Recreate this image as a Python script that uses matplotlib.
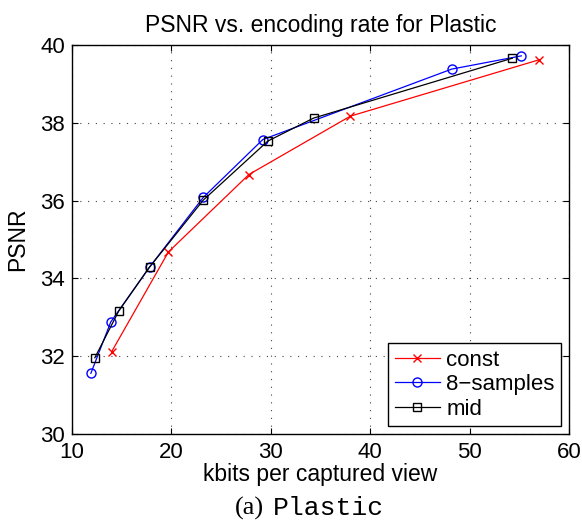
import matplotlib
matplotlib.use("Agg")
import matplotlib.pyplot as plt

# data
const_x = [14.0, 19.7, 27.8, 38.0, 57.0]
const_y = [32.12, 34.68, 36.67, 38.17, 39.62]

samples_x = [11.9, 13.9, 17.8, 23.2, 29.2, 48.2, 55.2]
samples_y = [31.56, 32.88, 34.29, 36.08, 37.57, 39.38, 39.72]

mid_x = [12.3, 14.7, 17.8, 23.2, 29.7, 34.3, 54.3]
mid_y = [31.96, 33.16, 34.29, 36.01, 37.53, 38.12, 39.66]

xticks = [10, 20, 30, 40, 50, 60]
yticks = [30, 32, 34, 36, 38, 40]

plt.rcParams['font.family'] = ['Liberation Sans', 'DejaVu Sans']

fig = plt.figure(figsize=(5.82, 5.23), dpi=100)
ax = fig.add_axes([0.1237, 0.1702, 0.854, 0.7438])

ax.plot(const_x, const_y, color='red', marker='x', markersize=6, lw=0.9, label='const')
ax.plot(samples_x, samples_y, color='blue', marker='o', markersize=6.5, mfc='none', lw=0.9, label='8\u2212samples')
ax.plot(mid_x, mid_y, color='black', marker='s', markersize=6, mfc='none', lw=0.9, label='mid')

ax.set_xlim(10, 60)
ax.set_ylim(30, 40)
ax.set_xticks(xticks)
ax.set_yticks(yticks)
ax.tick_params(axis='x', pad=6)
ax.tick_params(axis='y', pad=5)
ax.tick_params(direction='in', top=True, right=True, labelsize=16, length=4)
ax.grid(True, linestyle=(0, (1, 6)), color='#444444', lw=0.8)
for s in ax.spines.values():
    s.set_linewidth(1.0)

ax.set_title('PSNR vs. encoding rate for Plastic', fontsize=16.5, pad=9)
ax.set_xlabel('kbits per captured view', fontsize=16.5, labelpad=0)
ax.set_ylabel('PSNR', fontsize=16.5, labelpad=8)

leg = ax.legend(loc='lower right', fontsize=16, fancybox=False, framealpha=1,
                edgecolor='black', borderaxespad=0.35, handlelength=2.0,
                handletextpad=0.3, labelspacing=0.15, borderpad=0.3)
leg.get_frame().set_linewidth(1.0)

fig.text(0.4535, 0.0153, '(a)', fontsize=19, family='Liberation Serif', ha='right', va='baseline')
fig.text(0.469, 0.0153, 'Plastic', fontsize=19, family='Liberation Mono', ha='left', va='baseline')

fig.savefig('out.png', dpi=100)
